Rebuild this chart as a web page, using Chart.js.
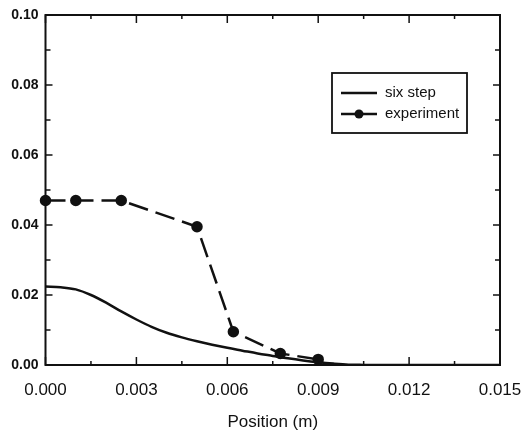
<!DOCTYPE html>
<html>
<head>
<meta charset="utf-8">
<script src="https://cdn.jsdelivr.net/npm/chart.js@4.4.1/dist/chart.umd.min.js"></script>
<style>
  html, body { margin: 0; padding: 0; background: #fff; }
  #wrap { width: 526px; height: 438px; position: relative; }
</style>
</head>
<body>
<div id="wrap"><canvas id="myChart"></canvas></div>
<script>
// six step model profile
const sixStepX = [0, 0.0005, 0.001, 0.0015, 0.002, 0.0025, 0.003, 0.0035, 0.004, 0.0045,
  0.005, 0.0055, 0.006, 0.0065, 0.007, 0.0075, 0.008, 0.0085, 0.009, 0.0095,
  0.010, 0.0105, 0.011, 0.012, 0.013, 0.014, 0.015];
const sixStepY = [0.0224, 0.0222, 0.0216, 0.0200, 0.0178, 0.0153, 0.0130, 0.0109, 0.0092, 0.0079,
  0.0068, 0.0058, 0.0049, 0.0041, 0.0033, 0.0026, 0.0019, 0.0013, 0.0008, 0.0004,
  0.0001, 0.00003, 0, 0, 0, 0, 0];

// measured points
const expX = [0, 0.001, 0.0025, 0.005, 0.0062, 0.00775, 0.009];
const expY = [0.047, 0.047, 0.047, 0.0395, 0.0095, 0.0033, 0.0016];

const xTicks = [0, 0.003, 0.006, 0.009, 0.012, 0.015];
const yTicks = [0, 0.02, 0.04, 0.06, 0.08, 0.10];
const xMinor = [0.0015, 0.0045, 0.0075, 0.0105, 0.0135];
const yMinor = [0.01, 0.03, 0.05, 0.07, 0.09];

const legendNames = ['six step', 'experiment'];

function pairs(xs, ys) {
  const out = [];
  for (let i = 0; i < xs.length; i++) out.push({x: xs[i], y: ys[i]});
  return out;
}

// frame, inward ticks on all four sides, and the boxed legend
const framePlugin = {
  id: 'frame',
  afterDatasetsDraw(chart) {
    const ctx = chart.ctx;
    const a = chart.chartArea;
    const xs = chart.scales.x, ys = chart.scales.y;
    ctx.save();
    ctx.strokeStyle = '#111';
    ctx.lineWidth = 2;
    ctx.strokeRect(a.left, a.top, a.right - a.left, a.bottom - a.top);

    ctx.lineWidth = 1.5;
    ctx.beginPath();
    function xt(v, len) {
      const p = xs.getPixelForValue(v);
      ctx.moveTo(p, a.bottom); ctx.lineTo(p, a.bottom - len);
      ctx.moveTo(p, a.top); ctx.lineTo(p, a.top + len);
    }
    function yt(v, len) {
      const p = ys.getPixelForValue(v);
      ctx.moveTo(a.left, p); ctx.lineTo(a.left + len, p);
      ctx.moveTo(a.right, p); ctx.lineTo(a.right - len, p);
    }
    xTicks.forEach(v => xt(v, 8));
    xMinor.forEach(v => xt(v, 4));
    yTicks.forEach(v => yt(v, 7));
    yMinor.forEach(v => yt(v, 5));
    ctx.stroke();

    // legend box
    const lx = 332, ly = 73, lw = 135, lh = 60;
    ctx.fillStyle = '#fff';
    ctx.fillRect(lx, ly, lw, lh);
    ctx.lineWidth = 1.8;
    ctx.strokeRect(lx, ly, lw, lh);
    const rows = [93, 114];
    chart.data.datasets.forEach((ds, i) => {
      const y = rows[i];
      ctx.strokeStyle = ds.borderColor;
      ctx.lineWidth = ds.borderWidth;
      ctx.setLineDash([]);
      ctx.beginPath();
      ctx.moveTo(341, y); ctx.lineTo(377, y);
      ctx.stroke();
      if (ds.pointRadius > 0) {
        ctx.fillStyle = ds.pointBackgroundColor;
        ctx.beginPath();
        ctx.arc(359, y, ds.pointRadius, 0, Math.PI * 2);
        ctx.fill();
      }
      ctx.fillStyle = '#111';
      ctx.font = '15px "Liberation Sans", Arial, sans-serif';
      ctx.textBaseline = 'middle';
      ctx.textAlign = 'left';
      ctx.fillText(ds.label, 385, y);
    });
    ctx.restore();
  }
};

function main() {
  const chartDiv = document.getElementById('myChart');
  new Chart(chartDiv, {
    type: 'line',
    data: {
      datasets: [{
        label: legendNames[0],
        data: pairs(sixStepX, sixStepY),
        borderColor: '#111',
        borderWidth: 2.5,
        pointRadius: 0,
        cubicInterpolationMode: 'monotone',
        fill: false
      }, {
        label: legendNames[1],
        data: pairs(expX, expY),
        borderColor: '#111',
        borderWidth: 2.5,
        borderDash: [20, 8],
        pointRadius: 4.5,
        pointBackgroundColor: '#111',
        pointBorderColor: '#111',
        tension: 0,
        clip: false,
        fill: false
      }]
    },
    options: {
      responsive: true,
      maintainAspectRatio: false,
      animation: false,
      layout: { padding: { left: 0, top: 15, right: 26, bottom: 0 } },
      plugins: { legend: { display: false }, tooltip: { enabled: false } },
      scales: {
        x: {
          type: 'linear',
          min: 0, max: 0.015,
          grid: { display: false },
          border: { display: false },
          afterBuildTicks(scale) { scale.ticks = xTicks.map(v => ({value: v})); },
          afterFit(scale) {
            scale.height = 73;
            scale.paddingLeft = 0;
            scale.paddingRight = 0;
          },
          ticks: {
            padding: 7,
            color: '#111',
            font: { family: '"Liberation Sans", Arial, sans-serif', size: 17 },
            maxRotation: 0,
            callback: v => v.toFixed(3)
          },
          title: {
            display: true,
            text: 'Position (m)',
            color: '#111',
            font: { family: '"Liberation Sans", Arial, sans-serif', size: 17 },
            padding: { top: 0, bottom: 5 }
          }
        },
        y: {
          min: 0, max: 0.10,
          grid: { display: false },
          border: { display: false },
          afterBuildTicks(scale) { scale.ticks = yTicks.map(v => ({value: v})); },
          afterFit(scale) { scale.width = 45.5; },
          ticks: {
            padding: -1,
            color: '#111',
            font: { family: '"Liberation Sans", Arial, sans-serif', size: 14, weight: 'bold' },
            callback: v => v.toFixed(2)
          }
        }
      }
    },
    plugins: [framePlugin]
  });
}

document.addEventListener('DOMContentLoaded', function () {
  main();
});
</script>
</body>
</html>
